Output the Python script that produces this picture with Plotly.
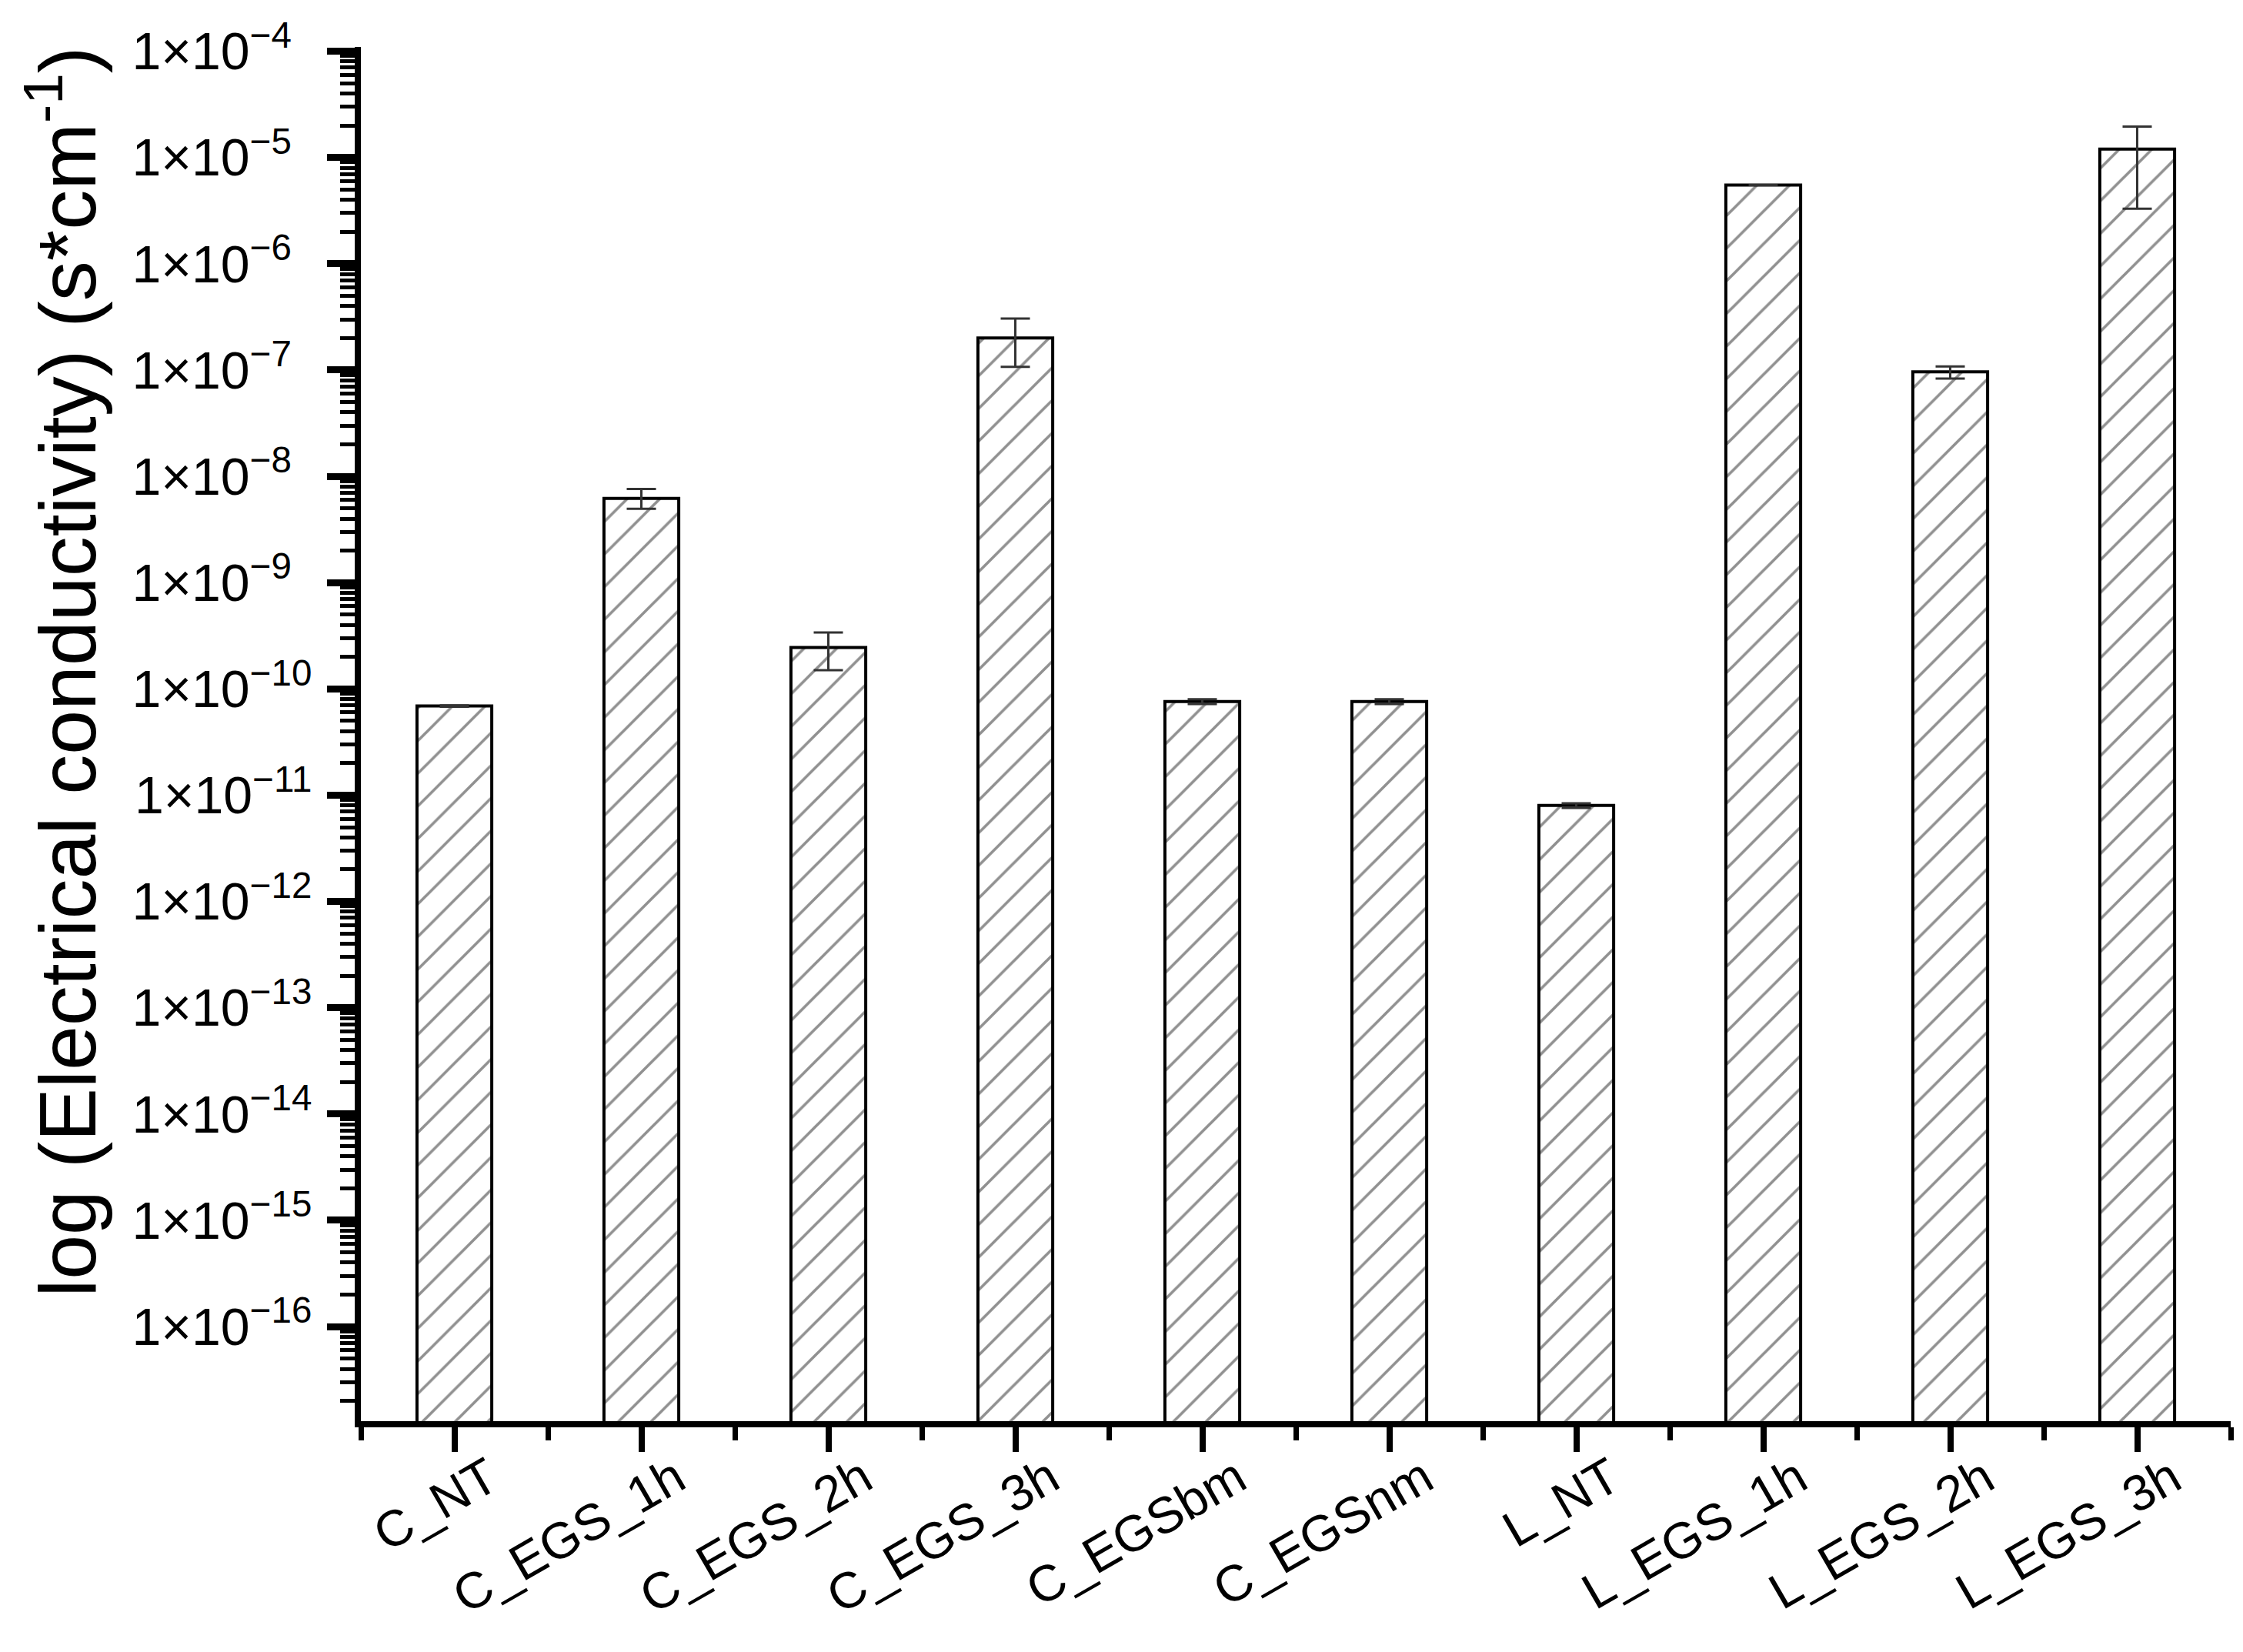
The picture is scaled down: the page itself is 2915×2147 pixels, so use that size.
import plotly.graph_objects as go

# samples and their conductivity (s*cm^-1)
samples = ["C_NT", "C_EGS_1h", "C_EGS_2h", "C_EGS_3h", "C_EGSbm",
           "C_EGSnm", "L_NT", "L_EGS_1h", "L_EGS_2h", "L_EGS_3h"]
conductivity = [6.9e-11, 6.2e-9, 2.45e-10, 2.0e-7, 7.6e-11,
                7.6e-11, 8.0e-12, 5.5e-6, 9.6e-8, 1.2e-5]
err_plus = [1.0e-12, 1.4e-9, 0.95e-10, 1.05e-7, 0.4e-11,
            0.4e-11, 0.4e-12, 0.0, 1.2e-8, 0.75e-5]
err_minus = [1.0e-12, 1.25e-9, 0.95e-10, 0.93e-7, 0.4e-11,
             0.4e-11, 0.4e-12, 0.0, 1.3e-8, 0.87e-5]

# y tick labels 1x10^-4 ... 1x10^-16
exponents = list(range(-4, -17, -1))
tick_vals = [10.0 ** e for e in exponents]
minor_vals = [k * 10.0 ** e for e in range(-17, -4) for k in range(2, 10)]

y_title = "log (Electrical conductivity) (s*cm<sup>-1</sup>)"


def power_label(e):
    # the original labels are left aligned, so pad the one-digit exponents
    pad = "\u00a0\u00a0" if -e < 10 else ""
    return "1×10<sup>\u2212%d%s</sup>" % (-e, pad)


tick_text = [power_label(e) for e in exponents]

FONT = "Arial, Liberation Sans, sans-serif"
x_pos = list(range(len(samples)))

fig = go.Figure()
fig.add_trace(go.Bar(
    x=x_pos,
    y=conductivity,
    width=0.4,
    marker=dict(
        color="white",
        line=dict(color="black", width=4),
        pattern=dict(shape="/", fgcolor="#222222", bgcolor="white",
                     size=30, solidity=0.12),
    ),
    error_y=dict(type="data", symmetric=False, array=err_plus,
                 arrayminus=err_minus, color="#333333",
                 thickness=3, width=19),
    showlegend=False,
))

fig.update_layout(
    width=2915,
    height=2147,
    margin=dict(l=461, r=24, t=53, b=308),
    paper_bgcolor="white",
    plot_bgcolor="white",
    font=dict(family=FONT, color="black"),
)

fig.update_xaxes(
    range=[-0.5, 9.5],
    tickmode="array",
    tickvals=x_pos,
    ticktext=samples,
    tickangle=-30,
    tickfont=dict(size=66, family=FONT),
    ticklabelshift=45,
    ticklabelstandoff=-30,
    showline=True, linecolor="black", linewidth=8,
    ticks="outside", ticklen=32, tickwidth=8, tickcolor="black",
    minor=dict(ticks="outside", ticklen=17, tickwidth=7, tickcolor="black",
               tickmode="linear", tick0=0.5, dtick=1),
    showgrid=False, zeroline=False,
)

fig.update_yaxes(
    type="log",
    range=[-16.89, -3.96],
    tickmode="array",
    tickvals=tick_vals,
    ticktext=tick_text,
    tickfont=dict(size=68, family=FONT),
    ticklabelstandoff=6,
    showline=True, linecolor="black", linewidth=8,
    ticks="outside", ticklen=36, tickwidth=9, tickcolor="black",
    minor=dict(ticks="outside", ticklen=19, tickwidth=5, tickcolor="black",
               tickmode="array", tickvals=minor_vals),
    showgrid=False, zeroline=False,
)

# y title placed by hand: it sits a bit above the axis centre in the original
fig.add_annotation(
    text=y_title, textangle=-90,
    xref="paper", yref="paper", x=-0.160, y=0.545,
    xanchor="center", yanchor="middle", showarrow=False,
    font=dict(size=104, family=FONT, color="black"),
)

fig.write_html("out.html")
